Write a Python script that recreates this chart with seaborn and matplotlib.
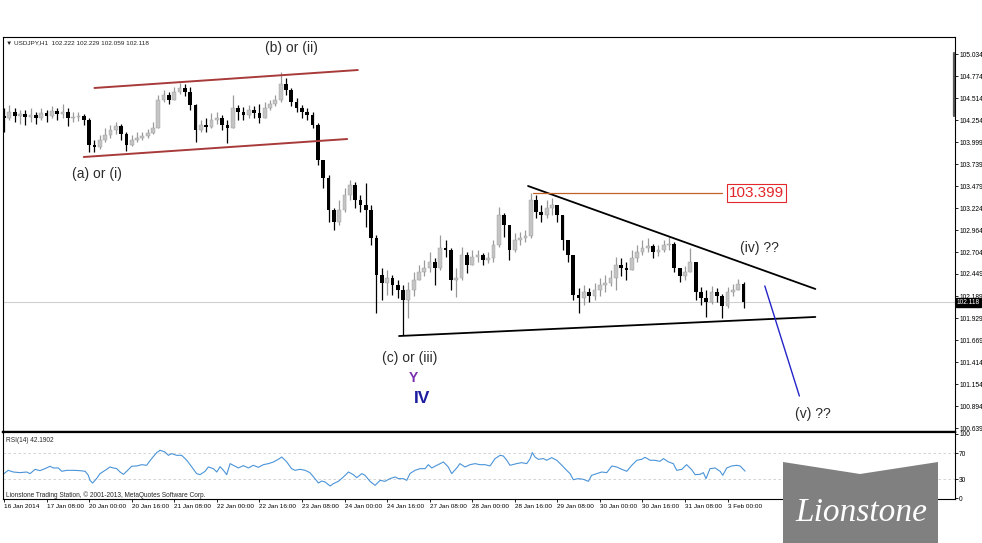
import numpy as np
import matplotlib
matplotlib.use('Agg')
import matplotlib.pyplot as plt
import matplotlib.transforms as mtrans
from matplotlib.patches import Polygon
import seaborn as sns

sns.set_style('white')
plt.rcParams['font.family'] = ['Liberation Sans', 'DejaVu Sans']

# USDJPY H1, every 2 hours from 16 Jan 16:00
first_open = 104.30
close = [
    104.28, 104.35, 104.31, 104.33, 104.29, 104.32, 104.28, 104.34, 104.31, 104.36,
    104.33, 104.35, 104.28, 104.29, 104.31, 104.26, 103.96, 103.94, 104.02, 104.08,
    104.14, 104.19, 104.09, 103.96, 104.02, 104.05, 104.07, 104.11, 104.17, 104.49,
    104.55, 104.49, 104.59, 104.64, 104.59, 104.44, 104.14, 104.20, 104.18, 104.26,
    104.28, 104.20, 104.17, 104.40, 104.35, 104.32, 104.38, 104.34, 104.28, 104.40,
    104.45, 104.49, 104.68, 104.61, 104.47, 104.40, 104.35, 104.32, 104.20, 103.79,
    103.58, 103.20, 103.06, 103.20, 103.38, 103.50, 103.32, 103.26, 103.20, 102.87,
    102.44, 102.34, 102.40, 102.32, 102.26, 102.14, 102.26, 102.38, 102.47, 102.52,
    102.59, 102.52, 102.75, 102.73, 102.38, 102.40, 102.67, 102.56, 102.65, 102.67,
    102.61, 102.64, 102.79, 103.14, 103.03, 102.73, 102.85, 102.87, 102.90, 103.32,
    103.18, 103.14, 103.22, 103.26, 103.14, 102.85, 102.67, 102.20, 102.17, 102.24,
    102.19, 102.26, 102.32, 102.34, 102.40, 102.56, 102.52, 102.50, 102.64, 102.71,
    102.75, 102.78, 102.71, 102.73, 102.79, 102.80, 102.52, 102.43, 102.47, 102.59,
    102.24, 102.17, 102.12, 102.24, 102.19, 102.07, 102.24, 102.26, 102.33, 102.12,
]
high = [
    104.40, 104.44, 104.40, 104.38, 104.38, 104.40, 104.35, 104.40, 104.38, 104.42,
    104.40, 104.45, 104.40, 104.35, 104.35, 104.33, 104.28, 104.02, 104.08, 104.17,
    104.20, 104.24, 104.21, 104.12, 104.08, 104.12, 104.12, 104.15, 104.24, 104.55,
    104.61, 104.59, 104.65, 104.69, 104.68, 104.65, 104.45, 104.26, 104.28, 104.34,
    104.35, 104.32, 104.26, 104.55, 104.44, 104.41, 104.44, 104.42, 104.45, 104.47,
    104.49, 104.55, 104.82, 104.75, 104.64, 104.52, 104.44, 104.40, 104.35, 104.22,
    103.79, 103.61, 103.22, 103.32, 103.46, 103.55, 103.53, 103.38, 103.52, 103.26,
    102.91, 102.52, 102.50, 102.44, 102.38, 102.32, 102.36, 102.47, 102.56, 102.61,
    102.71, 102.64, 102.91, 102.85, 102.75, 102.52, 102.77, 102.71, 102.73, 102.73,
    102.70, 102.71, 102.85, 103.24, 103.17, 103.03, 102.93, 102.94, 102.97, 103.40,
    103.38, 103.26, 103.32, 103.34, 103.26, 103.14, 102.85, 102.67, 102.29, 102.32,
    102.29, 102.34, 102.40, 102.44, 102.50, 102.65, 102.64, 102.59, 102.73, 102.79,
    102.85, 102.87, 102.80, 102.79, 102.85, 102.88, 102.82, 102.52, 102.54, 102.75,
    102.59, 102.30, 102.26, 102.31, 102.29, 102.21, 102.30, 102.33, 102.39, 102.36,
]
low = [
    104.12, 104.26, 104.24, 104.21, 104.20, 104.24, 104.21, 104.26, 104.24, 104.28,
    104.26, 104.28, 104.19, 104.24, 104.25, 104.20, 103.88, 103.88, 103.92, 104.00,
    104.05, 104.09, 104.02, 103.89, 103.95, 104.00, 104.02, 104.05, 104.09, 104.17,
    104.47, 104.45, 104.49, 104.56, 104.54, 104.38, 104.00, 104.12, 104.12, 104.17,
    104.21, 104.14, 103.99, 104.17, 104.26, 104.26, 104.28, 104.28, 104.22, 104.28,
    104.38, 104.42, 104.47, 104.55, 104.42, 104.35, 104.28, 104.26, 104.17, 103.73,
    103.46, 103.06, 102.97, 103.03, 103.18, 103.32, 103.22, 103.18, 103.00, 102.79,
    101.99, 102.14, 102.20, 102.20, 102.17, 101.73, 101.93, 102.19, 102.38, 102.43,
    102.47, 102.32, 102.50, 102.65, 102.26, 102.18, 102.38, 102.46, 102.56, 102.59,
    102.56, 102.58, 102.59, 102.77, 102.88, 102.61, 102.71, 102.79, 102.83, 102.87,
    103.11, 103.06, 103.11, 103.14, 103.06, 102.73, 102.59, 102.14, 101.99, 102.09,
    102.12, 102.14, 102.19, 102.24, 102.31, 102.26, 102.43, 102.38, 102.50, 102.59,
    102.67, 102.71, 102.64, 102.66, 102.71, 102.73, 102.47, 102.36, 102.38, 102.47,
    102.14, 102.09, 101.94, 102.10, 102.12, 101.93, 102.05, 102.19, 102.26, 102.05,
]
bar_hour = np.arange(0, 2 * len(close), 2)

# RSI(14), hour index vs value
rsi_hour = [
    0, 1.6, 3.5, 6.0, 8.5, 9.8, 11.7, 13.5, 15.4, 17.3, 18.5, 20.4, 21.7, 23.6, 26.1,
    28.6, 30.5, 31.7, 32.3, 33.3, 34.8, 36.1, 38.6, 39.8, 41.1, 42.4, 43.6, 44.9, 46.1,
    48.0, 49.9, 51.8, 53.6, 55.5, 57.4, 58.7, 60.5, 61.8, 63.0, 64.9, 66.8, 68.7, 70.6,
    72.4, 73.7, 75.6, 76.8, 78.7, 80.0, 81.2, 82.5, 83.7, 85.0, 86.2, 88.1, 90.0, 91.9,
    93.7, 95.6, 97.5, 99.4, 101.3, 103.1, 104.4, 106.3, 108.1, 109.4, 111.3, 113.2,
    115.0, 116.9, 118.2, 119.4, 120.7, 122.6, 123.8, 125.7, 127.6, 129.5, 131.3, 132.6,
    134.5, 135.7, 137.6, 139.5, 141.4,
    143.2, 145.1, 147.0, 148.3, 150.1, 151.4, 152.6, 154.5, 156.4, 158.3, 159.5, 160.8,
    162.7, 165.2, 167.0, 168.3, 170.2, 171.4, 173.3, 175.2, 177.1, 178.9, 180.8, 182.7,
    184.6, 186.5, 187.7, 189.0, 190.2, 192.7, 194.6, 196.5, 197.8, 198.6, 199.6, 200.9,
    202.8, 204.0, 205.9, 207.8, 209.7, 211.5, 212.8, 214.0, 215.9, 217.8, 219.7, 220.9,
    222.8, 224.7, 226.6, 228.5, 230.3, 232.2, 234.1, 236.0, 237.9, 239.7, 241.0, 242.9,
    244.7, 246.6, 247.9, 249.8, 251.6, 252.9, 254.8, 256.6, 258.5, 259.8, 261.7, 262.9,
    263.9, 265.4, 267.3, 269.2, 270.2, 271.7, 273.6, 275.4, 276.7, 278.6,
]
rsi_value = [
    38.4, 43.5, 40.9, 39.9, 40.9, 38.4, 45.1, 43.0, 46.1, 49.8, 47.2, 47.2, 42.0, 43.5, 43.5,
    43.0, 42.0, 35.8, 28.0, 23.8, 30.6, 38.4, 45.1, 48.7, 47.2, 46.1, 40.9, 37.3, 42.0,
    49.8, 50.3, 52.3, 51.3, 61.7, 71.0, 74.6, 72.0, 66.8, 69.4, 66.8, 66.8, 59.1, 48.7,
    38.4, 36.8, 42.0, 48.7, 46.1, 40.9, 49.2, 43.5, 36.8, 53.9, 51.3, 47.2, 50.8, 47.2,
    51.3, 48.2, 52.3, 53.9, 56.5, 60.6, 64.2, 56.5, 46.1, 43.5, 45.1, 43.5,
    39.9, 30.6, 23.8, 26.9, 25.4, 19.2, 22.8, 26.4, 33.2, 40.9, 36.8, 32.1,
    38.4, 35.8, 26.4, 20.2, 28.0,
    26.4, 30.6, 33.2, 30.6, 30.6, 28.0, 38.4, 43.5, 46.1, 46.1, 52.3, 47.2,
    51.3, 56.5, 48.7, 38.4, 47.2, 53.9, 48.7, 52.3, 53.9, 52.3, 52.3, 50.3,
    61.7, 66.8, 65.8, 59.1, 51.3, 53.9, 55.4, 53.9, 61.7, 71.0, 64.2, 60.6,
    61.7, 59.1, 63.2, 59.1, 51.3, 43.5, 38.4, 29.0, 30.6, 29.5, 26.4, 35.8,
    38.4, 40.9, 39.9, 50.3, 48.7, 45.1, 42.0, 51.3, 59.1, 60.6, 63.7, 59.1,
    59.1, 57.5, 61.7, 56.5, 53.9, 43.5, 45.1, 52.3, 44.6, 36.8, 37.3, 39.9,
    30.6, 46.1, 47.2, 42.0, 35.8, 47.2, 50.3, 51.3, 50.3, 42.2,
]

time_labels = ['16 Jan 2014', '17 Jan 08:00', '20 Jan 00:00', '20 Jan 16:00', '21 Jan 08:00',
               '22 Jan 00:00', '22 Jan 16:00', '23 Jan 08:00', '24 Jan 00:00', '24 Jan 16:00',
               '27 Jan 08:00', '28 Jan 00:00', '28 Jan 16:00', '29 Jan 08:00', '30 Jan 00:00',
               '30 Jan 16:00', '31 Jan 08:00', '3 Feb 00:00']
time_ticks = np.arange(0, 16 * len(time_labels), 16)
price_ticks = [105.034, 104.774, 104.514, 104.254, 103.999, 103.739, 103.479, 103.224,
               102.964, 102.704, 102.449, 102.189, 101.929, 101.669, 101.414, 101.154,
               100.894, 100.639]
rsi_levels = [100, 70, 30, 0]
last_price = 102.118

# hand drawn lines: (hours, prices)
channel_top = ([34, 133], [104.635, 104.846])
channel_bottom = ([30, 129], [103.824, 104.035])
upper_line = ([197, 305], [103.483, 102.273])
lower_line = ([148.5, 305], [101.720, 101.944])
wave_v = ([286, 299], [102.308, 101.015])
level_hours = [199, 270]
level_price = 103.399

W, H = 982, 543
fig = plt.figure(figsize=(W / 100, H / 100), dpi=100)
ax = fig.add_axes([3 / W, 1 - 432 / H, 952 / W, 395 / H])
rx = fig.add_axes([3 / W, 1 - 499 / H, 952 / W, 67 / H], sharex=ax)

# candles
c = np.array(close)
h = np.array(high)
l = np.array(low)
o = np.r_[first_open, c[:-1]]
up = c >= o
wick = np.where(up, '#9a9a9a', 'black')
ax.vlines(bar_hour, l, h, colors=wick, lw=0.9, zorder=2)
ax.bar(bar_hour[up], (c - o)[up], bottom=o[up], width=1.4, color='#c4c4c4',
       edgecolor='#9a9a9a', lw=0.3, zorder=3)
ax.bar(bar_hour[~up], (c - o)[~up], bottom=o[~up], width=1.4, color='black', lw=0, zorder=3)

ax.axhline(last_price, color='#cfcfcf', lw=0.8, zorder=1)

ax.plot(*channel_top, color='#a83a3a', lw=1.4, zorder=4)
ax.plot(*channel_bottom, color='#a83a3a', lw=1.4, zorder=4)
ax.plot(*upper_line, color='black', lw=1.3, zorder=4)
ax.plot(*lower_line, color='black', lw=1.3, zorder=4)
ax.plot(*wave_v, color='#2424c8', lw=1.0, zorder=4)
ax.plot(level_hours, [level_price] * 2, color='#c0602a', lw=0.9, zorder=4)
ax.text(283, level_price, f'{level_price:.3f}', color='#e3262b', fontsize=11,
        ha='center', va='center', zorder=5,
        bbox=dict(boxstyle='square,pad=0.12', fc='white', ec='#e3262b', lw=0.8))

lab = dict(color='#2b2b2b', fontsize=10, ha='center', va='center')
ax.text(108, 105.105, '(b) or (ii)', **lab)
ax.text(35, 103.624, '(a) or (i)', **lab)
ax.text(152.6, 101.462, '(c) or (iii)', **lab)
ax.text(283.8, 102.755, '(iv) ??', **lab)
ax.text(304.1, 100.804, '(v) ??', **lab)
ax.text(153.8, 101.227, 'Y', color='#7a2fb0', fontsize=10, fontweight='bold', ha='center', va='center')
ax.text(157.1, 100.980, 'IV', color='#1c1ca0', fontsize=12.5, fontweight='bold', ha='center', va='center')

ax.text(0.003, 0.985, '\u25bc USDJPY,H1  102.222 102.229 102.059 102.118',
        transform=ax.transAxes, fontsize=4.6, va='center', ha='left', color='#222222')

ax.set_xlim(-0.38, 357.5)
ax.set_ylim(100.592, 105.234)
ax.yaxis.tick_right()
ax.set_yticks(price_ticks)
ax.set_yticklabels([f'{p:.3f}' for p in price_ticks])
ax.tick_params(axis='y', right=True, left=False, length=2, width=0.6, pad=1,
               labelsize=4.8, colors='black')
ax.tick_params(axis='x', bottom=False, labelbottom=False)
ax.axvline(357.2, ymin=0.8, ymax=0.96, color='#5a5a5a', lw=1.6)

tr = mtrans.blended_transform_factory(ax.transAxes, ax.transData)
ax.text(1.002, last_price, f'{last_price:.3f}', transform=tr, fontsize=4.8, color='white',
        ha='left', va='center', zorder=6, clip_on=False,
        bbox=dict(boxstyle='square,pad=0.15', fc='black', ec='black'))

# RSI panel
sns.lineplot(x=rsi_hour, y=rsi_value, ax=rx, color='#4b94d8', lw=0.8, estimator=None)
for lv in rsi_levels[1:3]:
    rx.axhline(lv, color='#cccccc', lw=0.6, ls=(0, (3, 3)), zorder=0)
rx.set_ylim(-1, 103)
rx.yaxis.tick_right()
rx.set_yticks(rsi_levels)
rx.set_yticklabels([str(v) for v in rsi_levels])
rx.tick_params(axis='y', right=True, left=False, length=2, width=0.6, pad=1,
               labelsize=4.8, colors='black')
rx.set_xticks(time_ticks)
rx.set_xticklabels(time_labels)
rx.tick_params(axis='x', bottom=True, length=2.5, width=0.6, pad=0.8, labelsize=4.6,
               colors='black')
for t in rx.get_xticklabels():
    t.set_ha('left')
rx.set_xlabel('')
rx.set_ylabel('')
rx.text(0.003, 0.88, 'RSI(14) 42.1902', transform=rx.transAxes, fontsize=4.7, va='center')
rx.text(0.003, 0.06, 'Lionstone Trading Station, \u00a9 2001-2013, MetaQuotes Software Corp.',
        transform=rx.transAxes, fontsize=4.7, va='center')

for a in (ax, rx):
    for s in a.spines.values():
        s.set_color('black')
        s.set_linewidth(0.8)
ax.spines['bottom'].set_linewidth(1.6)
rx.spines['top'].set_linewidth(1.6)

# watermark
pts = [(783, 543), (783, 462), (860, 474), (938, 462), (938, 543)]
fig.patches.append(Polygon([(x / W, 1 - y / H) for x, y in pts], closed=True,
                           transform=fig.transFigure, fc='#808080', ec='none', zorder=10))
fig.text(861 / W, 1 - 513 / H, 'Lionstone', color='white', fontsize=24, style='italic',
         family=['Liberation Serif', 'DejaVu Serif'], ha='center', va='center', zorder=11)

fig.savefig('out.png', dpi=100)
